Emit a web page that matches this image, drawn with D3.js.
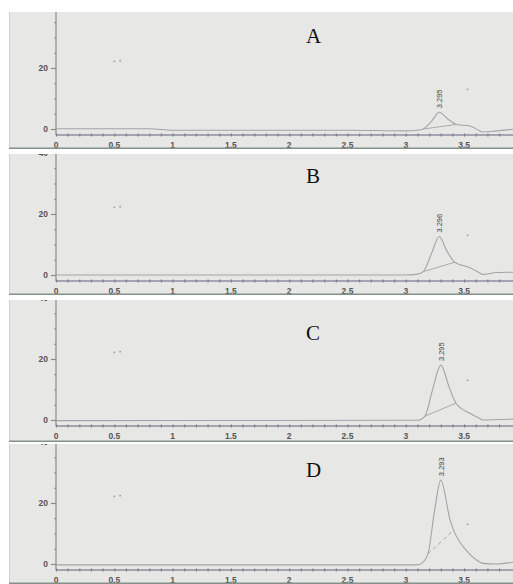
<!DOCTYPE html>
<html><head><meta charset="utf-8">
<script src="https://cdn.jsdelivr.net/npm/d3@7"></script>
<style>body{margin:0;background:#fff}svg{display:block}</style>
</head><body>
<script>
// ---- data ----
const panelLetters = ["A", "B", "C", "D"];
const peakLabels = ["3.295", "3.296", "3.295", "3.293"];
const xTickLabels = ["0", "0.5", "1", "1.5", "2", "2.5", "3", "3.5"];
const yTickLabels = ["0", "20", "40"];

const timeA = [0, 0.8, 1.0, 2.5, 3.0, 3.1, 3.15, 3.22, 3.287, 3.36, 3.436, 3.55, 3.62, 3.66, 3.78, 3.92];
const signalA = [0.1, 0.1, -0.4, -0.4, -0.6, -0.4, 0.0, 2.5, 5.5, 3.3, 1.5, 1.0, -0.3, -1.0, -0.6, -0.1];
const timeB = [0, 3.0, 3.1, 3.15, 3.22, 3.287, 3.35, 3.42, 3.55, 3.62, 3.66, 3.78, 3.92];
const signalB = [0, 0, 0.3, 1.1, 7.0, 12.6, 8.0, 4.2, 2.4, 1.0, 0.2, 0.8, 0.9];
const timeC = [0, 3.1, 3.165, 3.23, 3.30, 3.37, 3.43, 3.55, 3.62, 3.66, 3.92];
const signalC = [-0.2, -0.1, 1.3, 10, 18, 11, 5.5, 2.2, 0.8, 0, 0.3];
const timeD = [0, 3.1, 3.136, 3.19, 3.245, 3.30, 3.38, 3.41, 3.52, 3.6, 3.66, 3.78, 3.92];
const signalD = [-0.3, -0.3, 0.2, 3.3, 17, 27.5, 14.4, 11.1, 4.4, 1.5, 0.2, 0, 0.6];

// integration baselines drawn under the peaks
const baseTime = [[3.15, 3.436], [3.15, 3.42], [3.165, 3.43], [3.19, 3.41]];
const baseSignal = [[0.0, 1.5], [1.1, 4.2], [1.3, 5.5], [3.3, 11.1]];
const peakTime = [3.287, 3.287, 3.30, 3.30];
const peakSignal = [5.5, 12.6, 18, 27.5];
// scan specks
const speckTime = [0.5, 0.55, 3.53];
const speckSignal = [22.2, 22.4, 13];

// ---- layout ----
const W = 513, H = 584;
const panels = [
  {top: 12, bottom: 149, zero: 129, axis: 135},
  {top: 154, bottom: 295, zero: 275, axis: 281},
  {top: 300, bottom: 442, zero: 420, axis: 426},
  {top: 444, bottom: 584, zero: 564, axis: 570}
];
const times = [timeA, timeB, timeC, timeD];
const signals = [signalA, signalB, signalC, signalD];

const svg = d3.select("body").append("svg").attr("width", W).attr("height", H);
const x = d3.scaleLinear().domain([0, 1]).range([56, 172.6]);

panels.forEach((p, i) => {
  const y = d3.scaleLinear().domain([0, 40]).range([p.zero, p.zero - 122]);
  const clipId = "clip" + i;
  svg.append("clipPath").attr("id", clipId).append("rect")
    .attr("x", 9).attr("y", p.top).attr("width", W - 9).attr("height", p.bottom - p.top);
  const g = svg.append("g").attr("clip-path", `url(#${clipId})`);
  g.append("rect").attr("x", 9).attr("y", p.top).attr("width", W - 9).attr("height", p.bottom - p.top)
    .attr("fill", "#e7e7e5");
  g.append("line").attr("x1", 9.5).attr("x2", 9.5).attr("y1", p.top).attr("y2", p.bottom)
    .attr("stroke", "#d0d0ce");

  // y axis
  const yAxis = d3.axisLeft(y).tickValues(d3.range(0, 45, 5)).tickSize(0).tickFormat("");
  const ya = g.append("g").attr("transform", `translate(56,0)`).call(yAxis);
  ya.select(".domain").remove();
  g.append("line").attr("x1", 56).attr("x2", 56).attr("y1", p.top).attr("y2", p.axis)
    .attr("stroke", "#8a8a8a").attr("stroke-width", 1.2);
  ya.selectAll(".tick").append("line")
    .attr("x1", d => d % 20 === 0 ? -5 : -2).attr("x2", 0)
    .attr("stroke", "#8a8a8a").attr("stroke-width", 1.2);
  ya.selectAll(".tick").filter(d => d % 20 === 0).append("text")
    .attr("x", -8).attr("dy", "0.35em").attr("text-anchor", "end")
    .attr("font-family", "Liberation Sans, Arial, sans-serif").attr("font-size", 8.5)
    .attr("font-weight", "bold").attr("fill", "#555")
    .text(d => yTickLabels[d / 20]);

  // x axis
  g.append("line").attr("x1", 56).attr("x2", W).attr("y1", p.axis).attr("y2", p.axis)
    .attr("stroke", "#8e8c9c").attr("stroke-width", 1.3);
  const xa = g.append("g").attr("transform", `translate(0,${p.axis})`)
    .call(d3.axisBottom(x).tickValues(d3.range(0, 39).map(k => k / 10)).tickSize(0).tickFormat(""));
  xa.select(".domain").remove();
  xa.selectAll(".tick").append("line").attr("y1", -1.5).attr("y2", 1.5)
    .attr("stroke", "#7c7c8a").attr("stroke-width", 1.2);
  xTickLabels.forEach((lab, k) => {
    g.append("text").attr("x", x(k * 0.5)).attr("y", p.axis + 13)
      .attr("text-anchor", "middle").attr("font-family", "Liberation Sans, Arial, sans-serif")
      .attr("font-size", 8.5).attr("font-weight", "bold").attr("fill", "#555").text(lab);
  });
  // bottom scan edge
  g.append("line").attr("x1", 9).attr("x2", W).attr("y1", p.bottom - 0.8).attr("y2", p.bottom - 0.8)
    .attr("stroke", "#849088").attr("stroke-width", 1.6);

  // trace
  const data = times[i].map((t, k) => [t, signals[i][k]]);
  const line = d3.line().x(d => x(d[0])).y(d => y(d[1])).curve(d3.curveMonotoneX);
  g.append("path").attr("d", line(data)).attr("fill", "none")
    .attr("stroke", "#a4a4a8").attr("stroke-width", 1.1);
  const bl = baseTime[i].map((t, k) => [t, baseSignal[i][k]]);
  g.append("path").attr("d", d3.line().x(d => x(d[0])).y(d => y(d[1]))(bl)).attr("fill", "none")
    .attr("stroke", "#aaaaae").attr("stroke-width", 1)
    .attr("stroke-dasharray", i === 3 ? "4,3" : null);

  // peak label
  const px = x(peakTime[i]), py = y(peakSignal[i]);
  g.append("text").attr("transform", `translate(${px + 3},${py - 4}) rotate(-90)`)
    .attr("font-family", "Liberation Sans, Arial, sans-serif").attr("font-size", 7.5)
    .attr("fill", "#444").text(peakLabels[i]);

  // letter
  g.append("text").attr("x", 306).attr("y", [43, 183, 340, 477][i])
    .attr("font-family", "Liberation Serif, Times New Roman, serif").attr("font-size", 21)
    .attr("fill", "#111").text(panelLetters[i]);

  // specks
  speckTime.forEach((t, k) => {
    g.append("circle").attr("cx", x(t)).attr("cy", y(speckSignal[k])).attr("r", 0.9).attr("fill", "#9a9a9a");
  });
});
</script>
</body></html>
